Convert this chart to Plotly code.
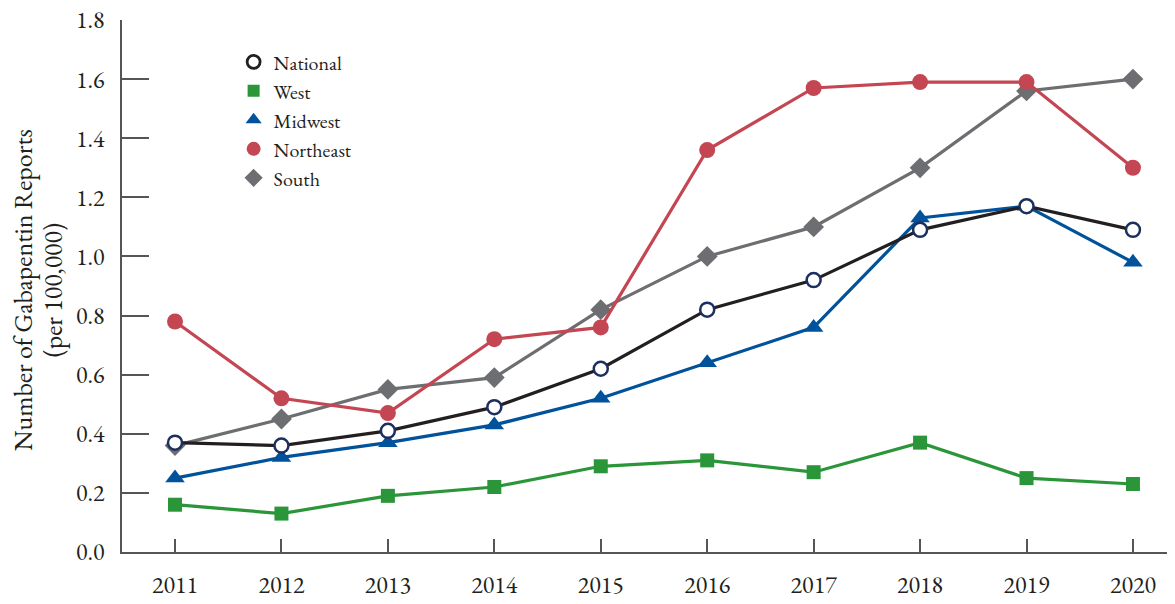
import plotly.graph_objects as go

years = [2011, 2012, 2013, 2014, 2015, 2016, 2017, 2018, 2019, 2020]
national = [0.37, 0.36, 0.41, 0.49, 0.62, 0.82, 0.92, 1.09, 1.17, 1.09]
west = [0.16, 0.13, 0.19, 0.22, 0.29, 0.31, 0.27, 0.37, 0.25, 0.23]
midwest = [0.25, 0.32, 0.37, 0.43, 0.52, 0.64, 0.76, 1.13, 1.17, 0.98]
northeast = [0.78, 0.52, 0.47, 0.72, 0.76, 1.36, 1.57, 1.59, 1.59, 1.30]
south = [0.36, 0.45, 0.55, 0.59, 0.82, 1.00, 1.10, 1.30, 1.56, 1.60]

y_ticks = [0, 0.2, 0.4, 0.6, 0.8, 1.0, 1.2, 1.4, 1.6, 1.8]
y_title_lines = ["Number of Gabapentin Reports", "(per 100,000)"]

FONT = "EB Garamond, Garamond, Liberation Serif, serif"

series = [
    # name, values, line color, marker symbol, marker fill, marker line color, size
    ("South", south, "#6d6e71", "diamond", "#6d6e71", "#6d6e71", 16),
    ("West", west, "#2a9639", "square", "#2a9639", "#2a9639", 14),
    ("Northeast", northeast, "#c34652", "circle", "#c34652", "#c34652", 16),
    ("Midwest", midwest, "#00529b", "triangle-up", "#00529b", "#00529b", 17),
    ("National", national, "#231f20", "circle", "#ffffff", "#1c2f5e", 14),
]

fig = go.Figure()
for name, vals, lc, sym, fill, mlc, sz in series:
    fig.add_trace(go.Scatter(
        x=years, y=vals, mode="lines+markers", name=name, showlegend=False,
        line=dict(color=lc, width=3.2),
        marker=dict(symbol=sym, size=sz, color=fill,
                    line=dict(color=mlc, width=2.5 if name == "National" else 0)),
    ))

legend_order = ["National", "West", "Midwest", "Northeast", "South"]
lookup = {s[0]: s for s in series}
for name in legend_order:
    _, _, lc, sym, fill, mlc, sz = lookup[name]
    if name == "National":
        mk = dict(symbol="circle-open", size=13, color="#231f20", line=dict(width=2.8))
    elif sym == "square":
        mk = dict(symbol=sym, size=12, color=fill)
    else:
        mk = dict(symbol=sym, size=14, color=fill)
    fig.add_trace(go.Scatter(x=[None], y=[None], mode="markers", name=name,
                             marker=mk, showlegend=True))

# y-axis title as two rotated lines
for i, (txt, xp) in enumerate(zip(y_title_lines, [-0.094, -0.066])):
    fig.add_annotation(text=txt, xref="paper", yref="paper", x=xp, y=0.4925,
                       xanchor="center", yanchor="middle", textangle=-90,
                       showarrow=False, font=dict(size=26, family=FONT, color="#231f20"))

# page body has an 8px margin, so figure is 8px smaller and shifted
fig.update_layout(
    width=1167, height=596,
    margin=dict(l=114, r=0, t=12, b=52),
    paper_bgcolor="white", plot_bgcolor="white",
    font=dict(family=FONT, size=24, color="#231f20"),
    legend=dict(x=0.106, y=0.958, xanchor="left", yanchor="top",
                font=dict(size=20, family=FONT), bgcolor="rgba(0,0,0,0)",
                itemsizing="trace", tracegroupgap=0),
    xaxis=dict(range=[2010.502, 2020.395], tickvals=years, ticktext=[str(y) for y in years],
               showgrid=False, zeroline=False, showline=True, linecolor="#555555",
               linewidth=1.5, ticks="inside", ticklen=13, tickcolor="#555555",
               tickwidth=1.5, ticklabelstandoff=10, automargin=False,
               ticklabeloverflow="allow"),
    yaxis=dict(range=[0, 1.8], tickvals=y_ticks,
               tickformat=".1f", showgrid=False, zeroline=False, showline=True,
               linecolor="#555555", linewidth=1.5, ticks="inside", ticklen=27,
               tickcolor="#555555", tickwidth=1.5, ticklabelstandoff=11,
               automargin=False, ticklabeloverflow="allow"),
)

fig.write_html("out.html")
